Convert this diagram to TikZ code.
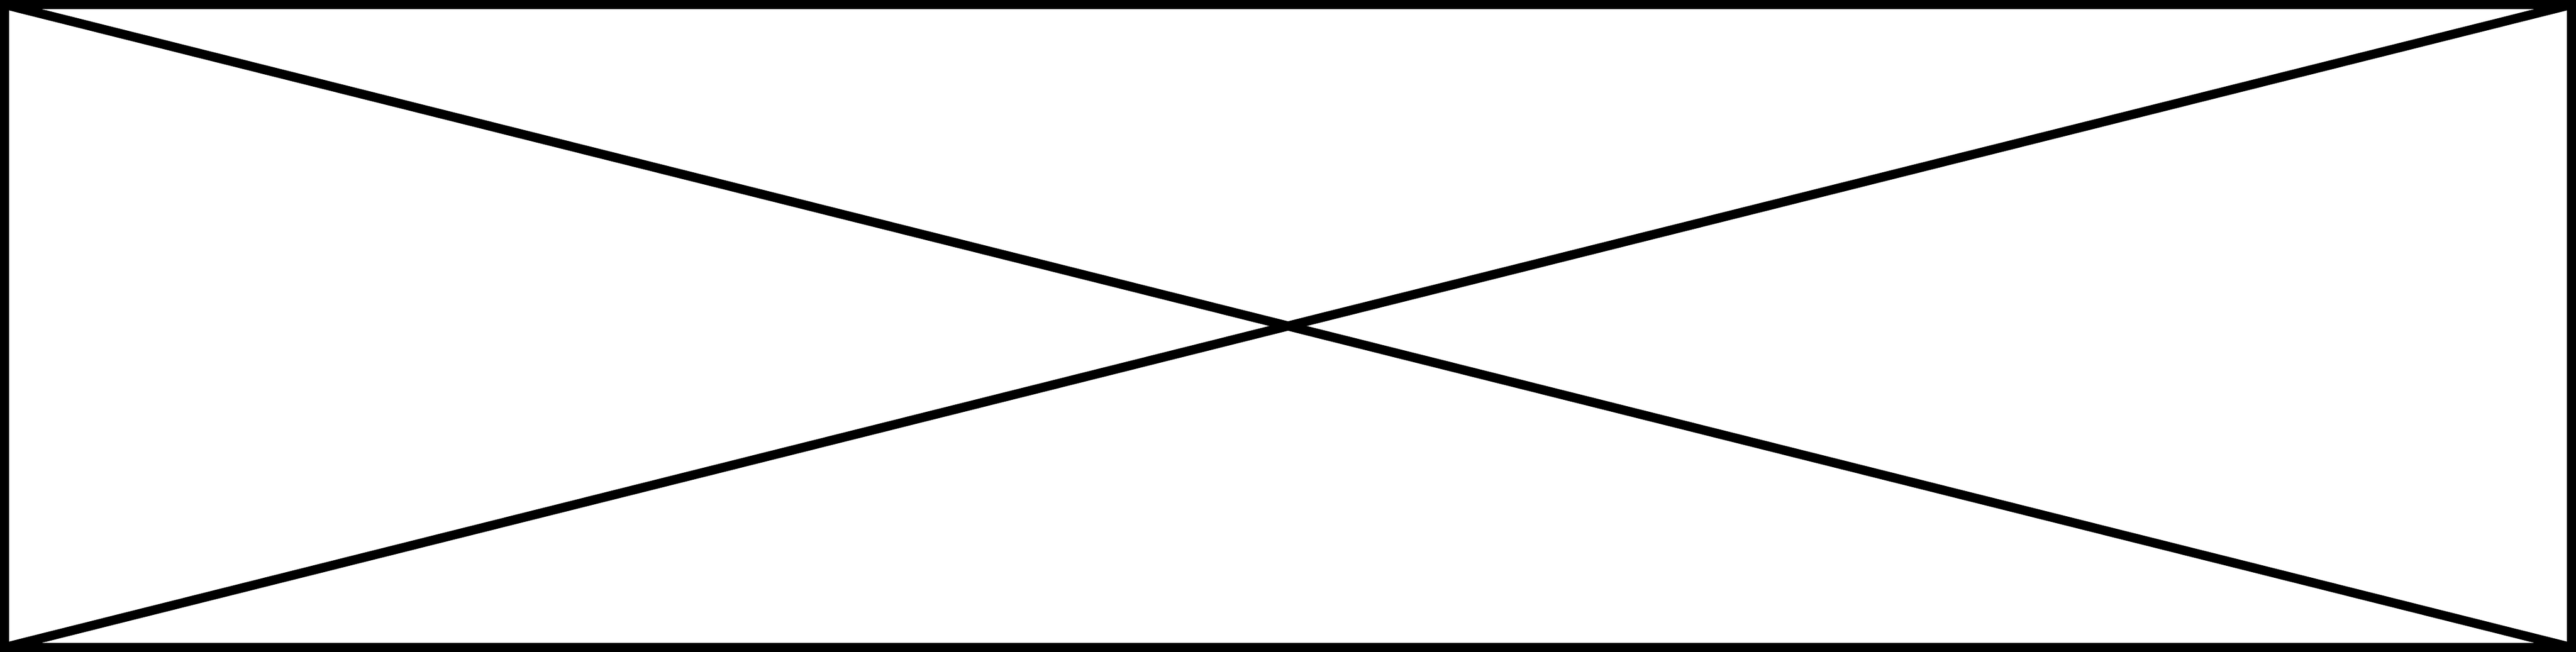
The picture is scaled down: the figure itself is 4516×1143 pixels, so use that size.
\documentclass[tikz,border=0pt]{standalone}
\begin{document}
\begin{tikzpicture}[x=0.01cm,y=-0.01cm,frame/.style={line width=4.55pt,line join=miter}]
\useasboundingbox (0,0) rectangle (4516,1143);
\coordinate (tl) at (8,8);
\coordinate (tr) at (4508,8);
\coordinate (br) at (4508,1135);
\coordinate (bl) at (8,1135);
\draw[frame] (tl) -- (tr) -- (br) -- (bl) -- cycle;
\draw[frame] (tl) -- (br);
\draw[frame] (tr) -- (bl);
\end{tikzpicture}
\end{document}
